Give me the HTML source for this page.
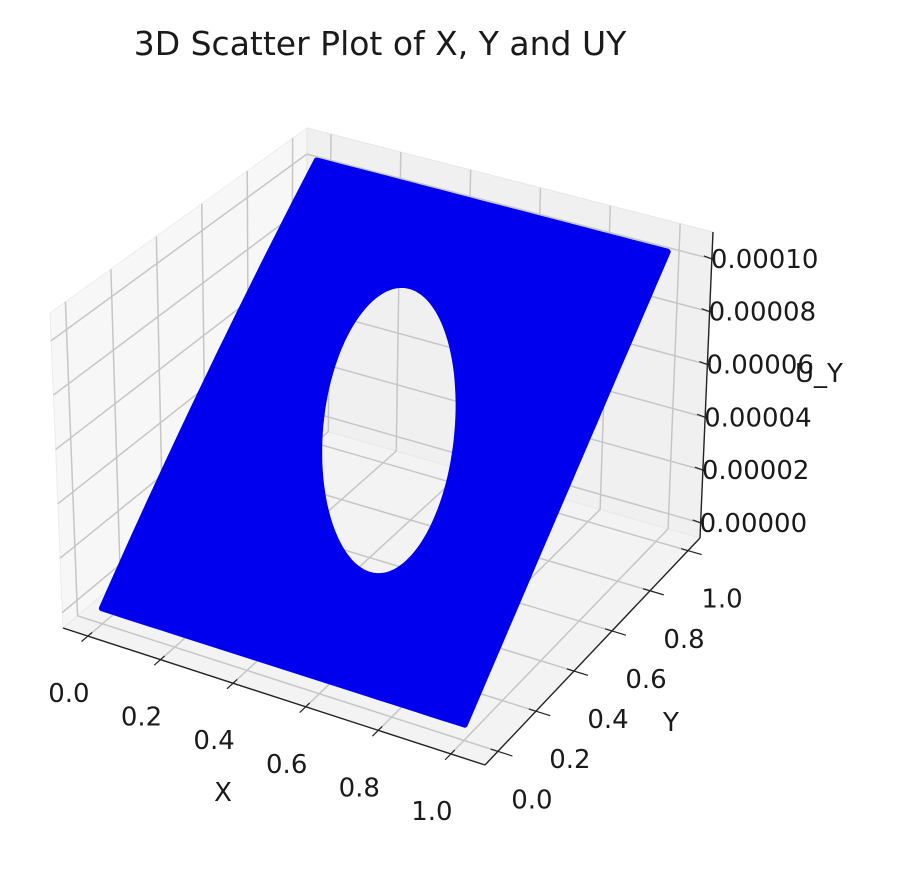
<!DOCTYPE html>
<html><head><meta charset="utf-8"><style>
html,body{margin:0;padding:0;background:#fff;}
svg{display:block;font-family:"DejaVu Sans","Liberation Sans",sans-serif;}
</style></head><body>
<svg id="chart" width="910" height="878" viewBox="0 0 910 878" xmlns="http://www.w3.org/2000/svg">
<text x="380" y="55" font-size="33" text-anchor="middle" fill="#1a1a1a">3D Scatter Plot of X, Y and UY</text>
<g id="panes"></g>
<g id="grid"></g>
<g id="series"></g>
<g id="axes"></g>
<text x="223" y="801" font-size="26" text-anchor="middle" fill="#1a1a1a">X</text>
<text x="671" y="731" font-size="26" text-anchor="middle" fill="#1a1a1a">Y</text>
<text x="795" y="382" font-size="26" fill="#1a1a1a">U_Y</text>
</svg>
<script>
// ---- data ----
const xTicks = [0, 0.2, 0.4, 0.6, 0.8, 1.0];
const xTickLabels = ["0.0", "0.2", "0.4", "0.6", "0.8", "1.0"];
const yTicks = [0, 0.2, 0.4, 0.6, 0.8, 1.0];
const yTickLabels = ["0.0", "0.2", "0.4", "0.6", "0.8", "1.0"];
const zTicks = [0, 0.00002, 0.00004, 0.00006, 0.00008, 0.00010];
const zTickLabels = ["0.00000", "0.00002", "0.00004", "0.00006", "0.00008", "0.00010"];
const domainX = [0, 1];
const domainY = [0, 1];
const uyAtYEnds = [0, 0.000104];      // UY at y=0 and y=1
const holeCenter = [0.5, 0.51];
const holeAxisA = [0.172, 0.031];
const holeAxisB = [-0.13, 0.287];
const xLim = [-0.0686, 1.094];
const yLim = [-0.068, 1.063];
const zLim = [-0.0000057, 0.0001102];

// ---- projection (box corners in pixels, trilinear) ----
const C = {
  p000:[63,628], p100:[485,765], p110:[700,538], p010:[305,425],
  p001:[50,313], p101:[505,445], p111:[713,232], p011:[307,128]
};
function lerp(a,b,t){return [a[0]+(b[0]-a[0])*t, a[1]+(b[1]-a[1])*t];}
function proj(x,y,z){
  const u=(x-xLim[0])/(xLim[1]-xLim[0]);
  const v=(y-yLim[0])/(yLim[1]-yLim[0]);
  const w=(z-zLim[0])/(zLim[1]-zLim[0]);
  const f=lerp(lerp(C.p000,C.p010,v), lerp(C.p100,C.p110,v), u);
  const t=lerp(lerp(C.p001,C.p011,v), lerp(C.p101,C.p111,v), u);
  return lerp(f,t,w);
}
const NS="http://www.w3.org/2000/svg";
function mk(tag, attrs, parent){
  const e=document.createElementNS(NS,tag);
  for(const k in attrs) e.setAttribute(k, attrs[k]);
  parent.appendChild(e); return e;
}
function pts(arr){return arr.map(p=>p[0].toFixed(1)+","+p[1].toFixed(1)).join(" ");}
function uy(y){return uyAtYEnds[0]+(uyAtYEnds[1]-uyAtYEnds[0])*(y-domainY[0])/(domainY[1]-domainY[0]);}

const panes=document.getElementById('panes');
const grid=document.getElementById('grid');
const series=document.getElementById('series');
const axes=document.getElementById('axes');
const X0=xLim[0],X1=xLim[1],Y0=yLim[0],Y1=yLim[1],Z0=zLim[0],Z1=zLim[1];

// panes
let e;
e=mk('polygon',{points:pts([proj(X0,Y0,Z0),proj(X0,Y1,Z0),proj(X0,Y1,Z1),proj(X0,Y0,Z1)]),fill:'#f7f7f7',stroke:'#ececec','stroke-width':1},panes);


e=mk('polygon',{points:pts([proj(X0,Y1,Z0),proj(X1,Y1,Z0),proj(X1,Y1,Z1),proj(X0,Y1,Z1)]),fill:'#f0f0f0',stroke:'#e6e6e6','stroke-width':1},panes);


e=mk('polygon',{points:pts([proj(X0,Y0,Z0),proj(X1,Y0,Z0),proj(X1,Y1,Z0),proj(X0,Y1,Z0)]),fill:'#f3f3f3',stroke:'#e8e8e8','stroke-width':1},panes);



// grid lines
const gs={stroke:'#c6c6c6','stroke-width':1.5,fill:'none'};
function gline(a,b,name){
  const l=mk('line',Object.assign({x1:a[0],y1:a[1],x2:b[0],y2:b[1]},gs),grid);
  
  
}
xTicks.forEach(x=>{
  gline(proj(x,Y0,Z0),proj(x,Y1,Z0),'floor-grid-x');
  gline(proj(x,Y1,Z0),proj(x,Y1,Z1),'back-grid-x');
});
yTicks.forEach(y=>{
  gline(proj(X0,y,Z0),proj(X1,y,Z0),'floor-grid-y');
  gline(proj(X0,y,Z0),proj(X0,y,Z1),'left-grid-y');
});
zTicks.forEach(z=>{
  gline(proj(X0,Y0,z),proj(X0,Y1,z),'left-grid-z');
  gline(proj(X0,Y1,z),proj(X1,Y1,z),'back-grid-z');
});

// surface (scatter points form a plane with elliptical hole)
let d='';
const N=30, outer=[];
for(let i=0;i<=N;i++){const x=domainX[0]+(domainX[1]-domainX[0])*i/N; outer.push(proj(x,domainY[0],uy(domainY[0])));}
for(let i=0;i<=N;i++){const y=domainY[0]+(domainY[1]-domainY[0])*i/N; outer.push(proj(domainX[1],y,uy(y)));}
for(let i=0;i<=N;i++){const x=domainX[1]-(domainX[1]-domainX[0])*i/N; outer.push(proj(x,domainY[1],uy(domainY[1])));}
for(let i=0;i<=N;i++){const y=domainY[1]-(domainY[1]-domainY[0])*i/N; outer.push(proj(domainX[0],y,uy(y)));}
d+='M'+outer.map(p=>p[0].toFixed(1)+' '+p[1].toFixed(1)).join(' L')+' Z ';
const hole=[];
for(let i=0;i<120;i++){
  const t=2*Math.PI*i/120;
  const x=holeCenter[0]+holeAxisA[0]*Math.cos(t)+holeAxisB[0]*Math.sin(t);
  const y=holeCenter[1]+holeAxisA[1]*Math.cos(t)+holeAxisB[1]*Math.sin(t);
  hole.push(proj(x,y,uy(y)));
}
d+='M'+hole.map(p=>p[0].toFixed(1)+' '+p[1].toFixed(1)).join(' L')+' Z';
const surf=mk('path',{d:d,fill:'#0000ef','fill-rule':'evenodd',stroke:'#0000ef','stroke-width':6,'stroke-linejoin':'round'},series);



// axes lines
function aline(a,b,name,w){
  const l=mk('line',{x1:a[0],y1:a[1],x2:b[0],y2:b[1],stroke:'#222','stroke-width':w||1.4},axes);
  
  
}
aline(proj(X0,Y0,Z0),proj(X1,Y0,Z0),'x-axis-line');
aline(proj(X1,Y0,Z0),proj(X1,Y1,Z0),'y-axis-line');
aline(proj(X1,Y1,Z0),proj(X1,Y1,Z1),'z-axis-line');

function tlabel(txt,x,y,anchor,name){
  const t=mk('text',{x:x.toFixed(1),y:y.toFixed(1),'font-size':26,'text-anchor':anchor,fill:'#1a1a1a'},axes);
  t.textContent=txt;
  
  
}
xTicks.forEach((x,i)=>{
  const a=proj(x,Y0+0.02,Z0), b=proj(x,Y0-0.03,Z0);
  aline(a,b,'x-tick',1.2);
  const p=proj(x,Y0,Z0);
  tlabel(xTickLabels[i],p[0]-19,p[1]+57+9,'middle','x-tick-label');
});
yTicks.forEach((y,i)=>{
  const a=proj(X1-0.02,y,Z0), b=proj(X1+0.04,y,Z0);
  aline(a,b,'y-tick',1.2);
  const p=proj(X1,y,Z0);
  tlabel(yTickLabels[i],p[0]+34,p[1]+48+9,'middle','y-tick-label');
});
zTicks.forEach((z,i)=>{
  const p=proj(X1,Y1,z);
  aline([p[0]-8,p[1]-3],[p[0]+3,p[1]+1],'z-tick',1.2);
  tlabel(zTickLabels[i],p[0]-1,p[1]+9,'start','z-tick-label');
});
</script>
</body></html>
